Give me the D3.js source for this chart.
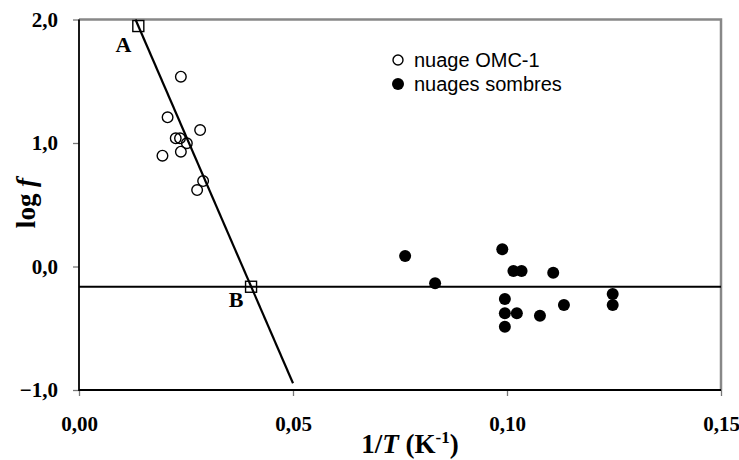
<!DOCTYPE html>
<meta charset="utf-8">
<style>
body { margin: 0; background: #fff; }
.tick text { font: bold 21px "Liberation Serif", "Times New Roman", serif; fill: #000; }
.tick line { stroke: #777; stroke-width: 1.3px; }
.legend text { font: 20px "Liberation Sans", Arial, sans-serif; }
</style>
<svg width="739" height="460"></svg>
<script src="https://d3js.org/d3.v7.min.js"></script>
<script>

// OMC-1 cloud (open circles)
var omcX = [0.0238, 0.0207, 0.0283, 0.0226, 0.0236, 0.0252, 0.0238, 0.0195, 0.0290, 0.0276];
var omcY = [1.537, 1.208, 1.105, 1.038, 1.038, 0.998, 0.930, 0.897, 0.692, 0.619];

// dark clouds (filled circles)
var darkX = [0.0762, 0.0832, 0.0989, 0.1015, 0.1034, 0.1108, 0.0995, 0.0995, 0.1023, 0.1077, 0.1133, 0.0995, 0.1247, 0.1247];
var darkY = [0.085, -0.136, 0.139, -0.036, -0.036, -0.050, -0.263, -0.379, -0.379, -0.398, -0.312, -0.487, -0.223, -0.312];

// fitted line through A and B, and the horizontal level
var fitX = [0.0132, 0.05];
var fitY = [2.0, -0.945];
var levelY = -0.164;
var markLabels = ["A", "B"];
var markX = [0.01386, 0.0402];
var markY = [1.947, -0.164];

var xTicks = [0, 0.05, 0.10, 0.15];
var yTicks = [-1, 0, 1, 2];

var svg = d3.select("svg"),
    pLeft = 79, pRight = 721, pTop = 19.5, pBottom = 390;

var x = d3.scaleLinear().domain([0, 0.15]).range([pLeft, pRight]);
var y = d3.scaleLinear().domain([-1, 2]).range([pBottom, pTop]);

var fr = d3.formatLocale({decimal: ",", thousands: " ", grouping: [3], currency: ["", ""]});

// frame: grey top/right, black left/bottom
svg.append("path")
    .attr("d", "M" + pLeft + "," + pTop + "H" + pRight + "V" + pBottom)
    .attr("fill", "none").attr("stroke", "#888").attr("stroke-width", 2.5);

svg.append("g")
    .attr("transform", "translate(0," + pBottom + ")")
    .call(d3.axisBottom(x).tickValues(xTicks).tickSize(6).tickPadding(20).tickFormat(fr.format(".2f")))
    .call(function(g) { g.select(".domain").remove(); });

svg.append("g")
    .attr("transform", "translate(" + pLeft + ",0)")
    .call(d3.axisLeft(y).tickValues(yTicks).tickSize(6).tickPadding(15).tickFormat(fr.format(".1f")))
    .call(function(g) { g.select(".domain").remove(); });

svg.append("line")
    .attr("x1", pLeft).attr("x2", pLeft).attr("y1", pTop).attr("y2", pBottom + 1)
    .attr("stroke", "#000").attr("stroke-width", 1.8);
svg.append("line")
    .attr("x1", pLeft).attr("x2", pRight).attr("y1", pBottom).attr("y2", pBottom)
    .attr("stroke", "#000").attr("stroke-width", 1.8);

// horizontal level line
svg.append("line")
    .attr("x1", x(0)).attr("x2", x(0.15)).attr("y1", y(levelY)).attr("y2", y(levelY))
    .attr("stroke", "#000").attr("stroke-width", 2.2);

// fitted line
svg.append("line")
    .attr("x1", x(fitX[0])).attr("y1", y(fitY[0]))
    .attr("x2", x(fitX[1])).attr("y2", y(fitY[1]))
    .attr("stroke", "#000").attr("stroke-width", 2.2);

// open circles
svg.append("g").selectAll("circle")
    .data(omcX)
    .join("circle")
    .attr("cx", function(d) { return x(d); })
    .attr("cy", function(d, i) { return y(omcY[i]); })
    .attr("r", 5.3)
    .attr("fill", "none").attr("stroke", "#000").attr("stroke-width", 1.4);

// filled circles
svg.append("g").selectAll("circle")
    .data(darkX)
    .join("circle")
    .attr("cx", function(d) { return x(d); })
    .attr("cy", function(d, i) { return y(darkY[i]); })
    .attr("r", 6)
    .attr("fill", "#000");

// A and B squares
svg.append("g").selectAll("rect")
    .data(markX)
    .join("rect")
    .attr("x", function(d) { return x(d) - 5.5; })
    .attr("y", function(d, i) { return y(markY[i]) - 5.5; })
    .attr("width", 11).attr("height", 11)
    .attr("fill", "none").attr("stroke", "#000").attr("stroke-width", 1.4);

svg.append("g").selectAll("text")
    .data(markLabels)
    .join("text")
    .attr("x", function(d, i) { return x(markX[i]) - 15; })
    .attr("y", function(d, i) { return y(markY[i]) + (d === "A" ? 26 : 20); })
    .attr("text-anchor", "middle")
    .style("font", "bold 22px 'Liberation Serif', serif")
    .text(function(d) { return d; });

// axis titles
var xt = svg.append("text")
    .attr("x", 410).attr("y", 453)
    .attr("text-anchor", "middle")
    .style("font", "bold 27px 'Liberation Serif', serif");
xt.append("tspan").text("1/");
xt.append("tspan").style("font-style", "italic").text("T");
xt.append("tspan").text(" (K");
xt.append("tspan").attr("dy", -10).style("font-size", "17px").text("-1");
xt.append("tspan").attr("dy", 10).text(")");

var yt = svg.append("text")
    .attr("transform", "translate(35,203) rotate(-90)")
    .attr("text-anchor", "middle")
    .style("font", "bold 27px 'Liberation Serif', serif");
yt.append("tspan").text("log ");
yt.append("tspan").style("font-style", "italic").text("f");

// legend
var legend = svg.append("g").attr("class", "legend");
legend.append("circle").attr("cx", 398).attr("cy", 60).attr("r", 5)
    .attr("fill", "none").attr("stroke", "#000").attr("stroke-width", 1.4);
legend.append("text").attr("x", 414).attr("y", 67).text("nuage OMC-1");
legend.append("circle").attr("cx", 398).attr("cy", 84).attr("r", 6).attr("fill", "#000");
legend.append("text").attr("x", 414).attr("y", 91).text("nuages sombres");

</script>
